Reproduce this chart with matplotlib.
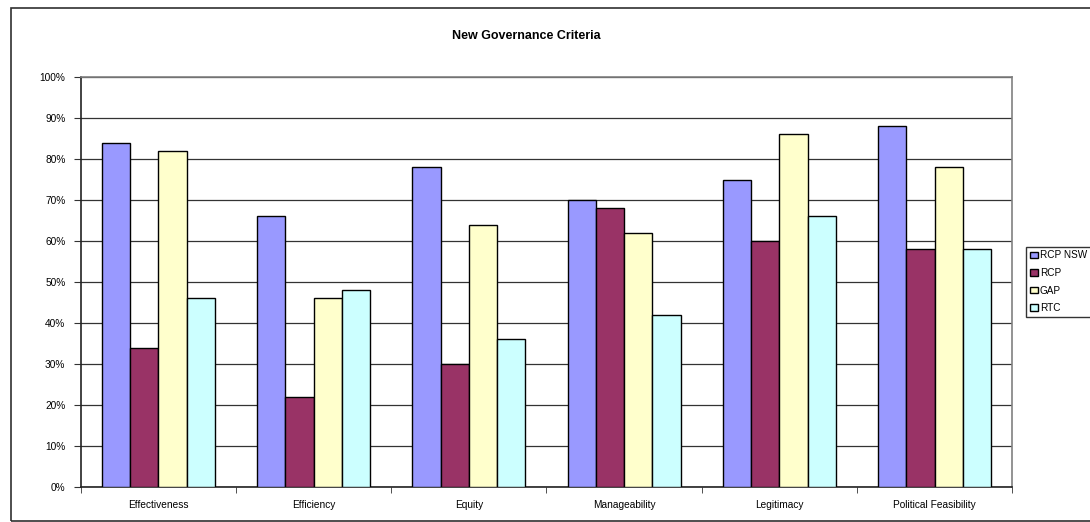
import numpy as np
import matplotlib.pyplot as plt
from matplotlib.patches import Rectangle

plt.rcParams['font.family'] = ['Liberation Sans', 'DejaVu Sans']

criteria = ["Effectiveness", "Efficiency", "Equity", "Manageability",
            "Legitimacy", "Political Feasibility"]
series = ["RCP NSW", "RCP", "GAP", "RTC"]
rcp_nsw = [84, 66, 78, 70, 75, 88]
rcp = [34, 22, 30, 68, 60, 58]
gap = [82, 46, 64, 62, 86, 78]
rtc = [46, 48, 36, 42, 66, 58]

colors = ["#9999FF", "#993366", "#FFFFCC", "#CCFFFF"]

fig = plt.figure(figsize=(10.9, 5.22), dpi=100)

# outer chart frame
fig.patches.append(Rectangle((11 / 1090, 1 / 522), 1.0, 513 / 522,
                             transform=fig.transFigure, fill=False,
                             edgecolor="#303030", lw=1.2))

ax = fig.add_axes([80.7 / 1090, 35 / 522, 931.5 / 1090, 410 / 522])

x = np.arange(len(criteria)) + 0.5
w = 0.182
for j, (vals, name) in enumerate(zip([rcp_nsw, rcp, gap, rtc], series)):
    ax.bar(x + (j - 1.5) * w, vals, width=w, color=colors[j],
           edgecolor="black", lw=1, label=name, zorder=3)

ax.set_xlim(0, len(criteria))
ax.set_ylim(0, 100)
ax.set_yticks(np.arange(0, 101, 10))
ax.set_yticklabels([f"{v}%" for v in range(0, 101, 10)], fontsize=7.3)
ax.yaxis.grid(True, color="#333333", lw=0.9, zorder=0)

ax.set_xticks(x)
ax.set_xticklabels(criteria, fontsize=7.3)
ax.tick_params(axis="x", length=0, pad=9)
ax.set_xticks(np.arange(0, len(criteria) + 1), minor=True)
ax.tick_params(axis="x", which="minor", length=4, direction="out", color="#333333")
ax.tick_params(axis="y", length=5, direction="out", pad=6, color="#333333")

for side in ["top", "right"]:
    ax.spines[side].set_color("#808080")
    ax.spines[side].set_linewidth(1.2)
for side in ["left", "bottom"]:
    ax.spines[side].set_color("#222222")
    ax.spines[side].set_linewidth(1.2)

fig.text(526 / 1090, 1 - 36 / 522, "New Governance Criteria", ha="center",
         va="center", fontsize=9, fontweight="bold")

leg = fig.legend(loc="upper left", bbox_to_anchor=(1026 / 1090, 1 - 247 / 522),
                 fontsize=7.2, frameon=True, fancybox=False, borderpad=0.35,
                 handlelength=0.85, handleheight=0.6, handletextpad=0.2,
                 labelspacing=0.75, borderaxespad=0)
leg.get_frame().set_edgecolor("black")
leg.get_frame().set_linewidth(1)

fig.savefig("out.png", dpi=100)
